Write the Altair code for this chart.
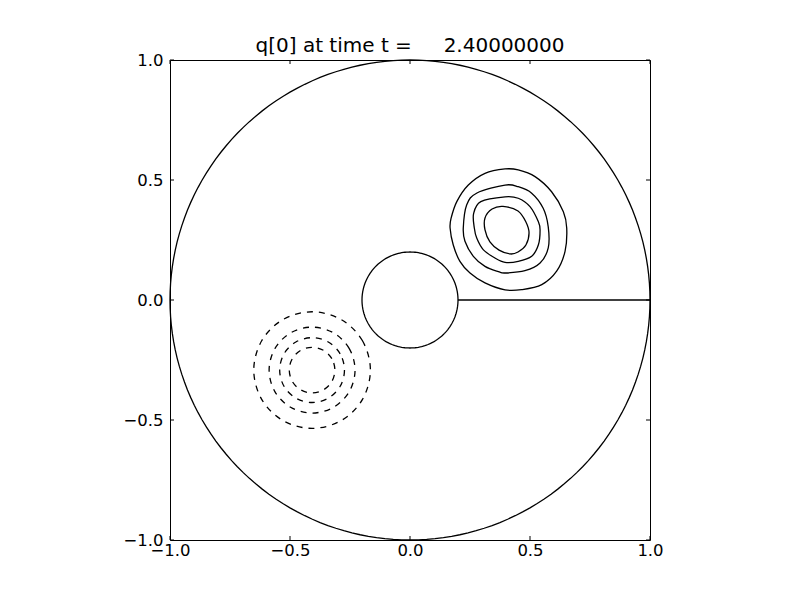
import altair as alt
import numpy as np
import pandas as pd

# ---------------- data ----------------
TITLE = "q[0] at time t =" + "\u00a0" * 5 + "2.40000000"
TICKS = [-1.0, -0.5, 0.0, 0.5, 1.0]

# domain boundary: annulus with a cut along y = 0
OUTER_R = 1.0
INNER_R = 0.2
CUT_X = [0.2, 1.0]
CUT_Y = [0.0, 0.0]

# solid (positive) contours
POS1_X = [0.396, 0.451, 0.521, 0.590, 0.639, 0.653, 0.646, 0.611, 0.549, 0.465, 0.396,
          0.3125, 0.250, 0.208, 0.180, 0.167, 0.171, 0.195, 0.243, 0.3125]
POS1_Y = [0.546, 0.542, 0.514, 0.451, 0.368, 0.300, 0.203, 0.120, 0.064, 0.043, 0.042,
          0.071, 0.1125, 0.161, 0.230, 0.300, 0.340, 0.410, 0.479, 0.528]
POS2_X = [0.396, 0.451, 0.507, 0.555, 0.576, 0.576, 0.542, 0.479, 0.396, 0.368, 0.3125, 0.264,
          0.229, 0.222, 0.236, 0.279]
POS2_Y = [0.479, 0.472, 0.445, 0.382, 0.305, 0.217, 0.154, 0.122, 0.1125, 0.118, 0.140, 0.182,
          0.245, 0.300, 0.396, 0.446]
POS3_X = [0.396, 0.451, 0.500, 0.535, 0.542, 0.535, 0.507, 0.451, 0.396, 0.354, 0.305, 0.278,
          0.268, 0.265, 0.295]
POS3_Y = [0.430, 0.424, 0.389, 0.326, 0.292, 0.230, 0.182, 0.161, 0.157, 0.175, 0.210, 0.258,
          0.300, 0.360, 0.410]
POS4_X = [0.3875, 0.450, 0.483, 0.496, 0.483, 0.450, 0.417, 0.371, 0.333, 0.3125, 0.3125, 0.342]
POS4_Y = [0.390, 0.371, 0.325, 0.279, 0.229, 0.200, 0.192, 0.208, 0.242, 0.292, 0.342, 0.379]

# dashed (negative) contours
NEG1_X = [-0.165, -0.198, -0.286, -0.408, -0.530, -0.618, -0.651, -0.618, -0.530, -0.408, -0.286, -0.198]
NEG1_Y = [-0.292, -0.170, -0.082, -0.049, -0.082, -0.170, -0.292, -0.414, -0.502, -0.535, -0.502, -0.414]
NEG2_X = [-0.229, -0.253, -0.3185, -0.408, -0.4975, -0.563, -0.587, -0.563, -0.4975, -0.408, -0.3185, -0.253]
NEG2_Y = [-0.292, -0.2025, -0.137, -0.113, -0.137, -0.2025, -0.292, -0.3815, -0.447, -0.471, -0.447, -0.3815]
NEG3_X = [-0.273, -0.291, -0.3405, -0.408, -0.4755, -0.525, -0.543, -0.525, -0.4755, -0.408, -0.3405, -0.291]
NEG3_Y = [-0.292, -0.2245, -0.175, -0.157, -0.175, -0.2245, -0.292, -0.3595, -0.409, -0.427, -0.409, -0.3595]
NEG4_X = [-0.313, -0.3257, -0.3605, -0.408, -0.4555, -0.4903, -0.503, -0.4903, -0.4555, -0.408, -0.3605, -0.3257]
NEG4_Y = [-0.292, -0.2445, -0.2097, -0.197, -0.2097, -0.2445, -0.292, -0.3395, -0.3743, -0.387, -0.3743, -0.3395]

# ---------------- tables ----------------
def contour_table(name, xs, ys):
    return pd.DataFrame({"x": xs, "y": ys, "order": range(len(xs)), "c": name})

pos = pd.concat([contour_table("p1", POS1_X, POS1_Y), contour_table("p2", POS2_X, POS2_Y),
                 contour_table("p3", POS3_X, POS3_Y), contour_table("p4", POS4_X, POS4_Y)])
neg = pd.concat([contour_table("n1", NEG1_X, NEG1_Y), contour_table("n2", NEG2_X, NEG2_Y),
                 contour_table("n3", NEG3_X, NEG3_Y), contour_table("n4", NEG4_X, NEG4_Y)])

ang = np.linspace(0, 2 * np.pi, 181)
boundary = pd.concat([
    pd.DataFrame({"x": OUTER_R * np.cos(ang), "y": OUTER_R * np.sin(ang), "order": range(len(ang)), "c": "outer"}),
    pd.DataFrame({"x": INNER_R * np.cos(ang), "y": INNER_R * np.sin(ang), "order": range(len(ang)), "c": "inner"}),
])
cut = pd.DataFrame({"x": CUT_X, "y": CUT_Y, "order": [0, 1], "c": "cut"})
ticks = pd.DataFrame({"v": TICKS})

# ---------------- chart ----------------
SCALE = alt.Scale(domain=[-1, 1], nice=False, zero=False)
LABEL_SIZE = 16.5
X_AXIS = alt.Axis(values=TICKS, format=".1f", title=None, labelPadding=2, labelFlush=False,
                  labelOverlap=False, grid=False, domain=False, ticks=False, tickSize=0,
                  labelFont="DejaVu Sans", labelFontSize=LABEL_SIZE, labelColor="black")
Y_AXIS = alt.Axis(values=TICKS, format=".1f", title=None, labelPadding=7, labelFlush=False,
                  labelOverlap=False, grid=False, domain=False, ticks=False, tickSize=0,
                  labelFont="DejaVu Sans", labelFontSize=LABEL_SIZE, labelColor="black")


def xy():
    return dict(x=alt.X("x:Q", scale=SCALE, axis=X_AXIS), y=alt.Y("y:Q", scale=SCALE, axis=Y_AXIS))


LW = 1.3
boundary_layer = alt.Chart(boundary).mark_line(color="black", strokeWidth=LW).encode(
    **xy(), detail="c:N", order="order:Q")
cut_layer = alt.Chart(cut).mark_line(color="black", strokeWidth=1.6).encode(
    **xy(), detail="c:N", order="order:Q")
pos_layer = alt.Chart(pos).mark_line(color="black", strokeWidth=LW, interpolate="cardinal-closed").encode(
    **xy(), detail="c:N", order="order:Q")
neg_layer = alt.Chart(neg).mark_line(color="black", strokeWidth=LW, interpolate="cardinal-closed",
                                     strokeDash=[6, 6]).encode(
    **xy(), detail="c:N", order="order:Q")

XT = alt.X("v:Q", scale=SCALE, axis=X_AXIS)
YT = alt.Y("v:Q", scale=SCALE, axis=Y_AXIS)
tick_bottom = alt.Chart(ticks).mark_rule(color="black").encode(x=XT, y=alt.value(480), y2=alt.value(476))
tick_top = alt.Chart(ticks).mark_rule(color="black").encode(x=XT, y=alt.value(0), y2=alt.value(4))
tick_left = alt.Chart(ticks).mark_rule(color="black").encode(y=YT, x=alt.value(0), x2=alt.value(4))
tick_right = alt.Chart(ticks).mark_rule(color="black").encode(y=YT, x=alt.value(480), x2=alt.value(476))

chart = alt.layer(
    boundary_layer, cut_layer, pos_layer, neg_layer, tick_bottom, tick_top, tick_left, tick_right
).properties(
    width=480, height=480,
    background="white",
    title=alt.TitleParams(TITLE, font="DejaVu Sans", fontSize=20, fontWeight="normal",
                          color="black", anchor="middle", baseline="alphabetic", offset=8, dy=28),
    autosize=alt.AutoSizeParams(type="none"),
    padding={"left": 162, "top": 52, "right": 142, "bottom": 52},
).configure_view(
    stroke="black", strokeWidth=1
)

chart.save("out.html", embed_options={"renderer": "svg", "actions": False})
